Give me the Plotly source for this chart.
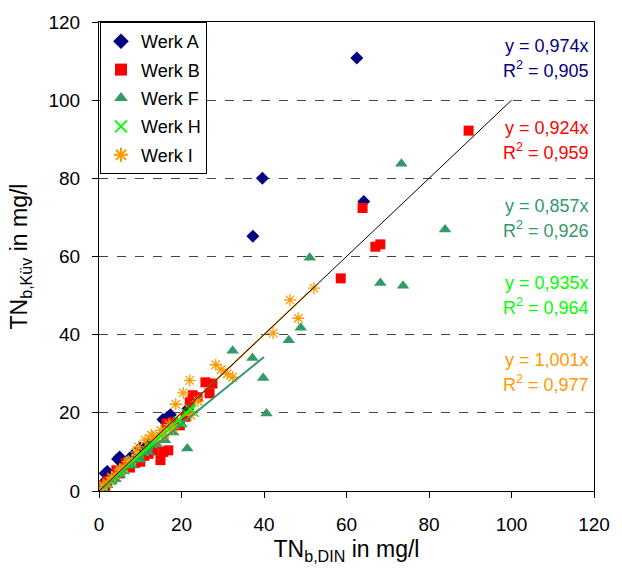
import plotly.graph_objects as go

# ---- data ----
werk_a_x = [0.5, 1.0, 1.5, 2.0, 3.0, 4.5, 5.0, 6.0, 8.0, 10.0, 12.0, 15.5, 16.5, 17.3, 21.5, 37.3, 39.6, 62.5, 64.2]
werk_a_y = [1.0, 2.0, 4.5, 5.0, 4.0, 8.2, 8.7, 7.0, 9.0, 11.0, 12.0, 18.3, 18.8, 19.5, 21.0, 65.2, 80.0, 110.8, 74.1]

werk_b_x = [0.2, 0.5, 1.0, 1.5, 2.0, 3.0, 4.2, 5.0, 6.5, 7.5, 8.8, 9.6, 10.0, 11.0, 12.0, 13.2, 14.9, 15.6,
            16.8, 16.4, 18.0, 19.6, 21.0, 22.0, 22.7, 23.9, 25.8, 26.8, 27.5, 58.6, 63.9, 67.0, 68.2, 89.6]
werk_b_y = [0.8, 1.2, 1.5, 1.0, 2.5, 3.0, 5.3, 4.5, 7.1, 6.0, 7.2, 8.6, 7.5, 9.0, 9.5, 10.4, 7.9, 10.0,
            10.4, 17.3, 17.6, 16.8, 19.0, 22.7, 24.5, 24.0, 27.8, 25.0, 27.5, 54.4, 72.4, 62.5, 63.1, 92.2]

werk_f_x = [1.0, 2.0, 3.0, 4.0, 5.0, 6.0, 8.0, 10.0, 12.0, 14.0, 16.0, 18.0, 20.0, 21.4, 32.4, 37.2, 39.8,
            40.6, 46.0, 48.9, 51.1, 68.2, 73.7, 73.3, 83.9]
werk_f_y = [0.5, 1.5, 2.5, 3.0, 4.0, 5.0, 6.5, 8.0, 10.0, 12.0, 13.0, 15.0, 17.0, 10.9, 35.9, 34.0, 28.9,
            19.8, 38.6, 41.8, 59.7, 53.2, 52.5, 83.7, 66.9]

werk_h_x = [1.0, 2.0, 3.0, 4.0, 5.0, 6.0, 7.0, 8.0, 9.0, 10.0, 11.0, 12.0, 13.0, 14.0, 15.0, 16.0, 17.0,
            18.0, 19.0, 20.0, 21.0, 22.0, 23.2, 24.0]
werk_h_y = [1.0, 2.0, 2.5, 4.0, 5.0, 5.5, 7.0, 7.5, 8.5, 9.5, 10.0, 11.5, 12.0, 13.5, 14.0, 15.0, 16.0,
            17.0, 18.0, 17.3, 20.0, 21.0, 20.0, 23.0]

werk_i_x = [0.5, 1.0, 2.0, 3.0, 4.0, 5.0, 6.0, 7.0, 8.0, 9.0, 9.6, 11.2, 12.7, 13.0, 14.0, 15.0, 16.0, 17.0,
            18.0, 18.6, 20.4, 22.0, 22.3, 24.0, 28.3, 29.6, 31.1, 32.4, 42.2, 46.3, 48.3, 52.1]
werk_i_y = [0.5, 1.5, 2.0, 3.5, 4.0, 5.5, 6.0, 7.5, 8.0, 10.0, 11.3, 13.0, 14.3, 14.0, 13.0, 15.5, 14.5, 17.0,
            16.0, 22.2, 25.1, 28.3, 19.4, 23.0, 32.3, 31.1, 30.0, 29.1, 40.4, 48.9, 44.2, 51.9]

series_names = ["Werk A", "Werk B", "Werk F", "Werk H", "Werk I"]
slope_labels = ["0,974", "0,924", "0,857", "0,935", "1,001"]
r2 = ["0,905", "0,959", "0,926", "0,964", "0,977"]

# visible fitted lines: (series, slope, x end)
trend_specs = [("Werk F", 0.857, 40.0), ("Werk H", 0.935, 23.5), ("Werk I", 1.001, 52.1)]
identity_end = 100.0

x_ticks = [0, 20, 40, 60, 80, 100, 120]
y_ticks = [0, 20, 40, 60, 80, 100, 120]

colors = {"Werk A": "#000080", "Werk B": "#FF0000", "Werk F": "#339966",
          "Werk H": "#00FF00", "Werk I": "#FF9900"}

fig = go.Figure()

data = {
    "Werk A": (werk_a_x, werk_a_y, dict(symbol="diamond", size=10)),
    "Werk B": (werk_b_x, werk_b_y, dict(symbol="square", size=10)),
    "Werk F": (werk_f_x, werk_f_y, dict(symbol="triangle-up", size=11)),
    "Werk H": (werk_h_x, werk_h_y, dict(symbol="x-thin-open", size=8, line=dict(width=1.3))),
    "Werk I": (werk_i_x, werk_i_y, dict(symbol="asterisk-open", size=10, line=dict(width=1.3))),
}

for name in series_names:
    xs, ys, mk = data[name]
    m = dict(mk)
    m["color"] = colors[name]
    if "line" in m:
        m["line"] = dict(m["line"], color=colors[name])
    else:
        m["line"] = dict(width=0)
    fig.add_trace(go.Scatter(x=xs, y=ys, mode="markers", name=name, marker=m, legendgroup=name))

for name, b, xe in trend_specs:
    fig.add_trace(go.Scatter(x=[0, xe], y=[0, b * xe], mode="lines",
                             line=dict(color=colors[name], width=2 if name != "Werk I" else 1.5),
                             showlegend=False, hoverinfo="skip"))
# identity line on top
fig.add_trace(go.Scatter(x=[0, identity_end], y=[0, identity_end], mode="lines",
                         line=dict(color="black", width=1), showlegend=False, hoverinfo="skip"))

# annotations
plot_top, plot_bottom = 20, 491
def ypaper(py):
    return (plot_bottom - py) / (plot_bottom - plot_top)

ann_rows = [(44, 68), (126, 150), (205, 228), (282, 306), (359, 383)]
for name, sl, rr, (y1, y2) in zip(series_names, slope_labels, r2, ann_rows):
    c = colors[name]
    fig.add_annotation(x=0.993, y=ypaper(y1), xref="paper", yref="paper", xanchor="right",
                       yanchor="middle", text=f"y = {sl}x", showarrow=False,
                       font=dict(color=c, size=18))
    fig.add_annotation(x=0.993, y=ypaper(y2), xref="paper", yref="paper", xanchor="right",
                       yanchor="middle", text=f"R<sup>2</sup> = {rr}", showarrow=False,
                       font=dict(color=c, size=18))

fig.update_layout(
    width=622, height=570,
    margin=dict(l=99, r=19, t=20, b=79),
    paper_bgcolor="white", plot_bgcolor="white",
    font=dict(family="Liberation Sans, Arial, sans-serif", size=19, color="black"),
    showlegend=True,
    legend=dict(x=0.002, y=1.0, xanchor="left", yanchor="top", bgcolor="white",
                bordercolor="black", borderwidth=1, font=dict(size=18),
                itemsizing="constant", tracegroupgap=2, itemwidth=30),
    xaxis=dict(range=[0, 120], tickvals=x_ticks, showgrid=False, zeroline=False,
               showline=True, linecolor="black", linewidth=1, mirror=True,
               ticks="outside", ticklen=6, tickcolor="black", ticklabelstandoff=10,
               title=dict(text="TN<sub>b,DIN</sub> in mg/l", standoff=7)),
    yaxis=dict(range=[0, 120], tickvals=y_ticks, showgrid=True, gridcolor="#444444",
               griddash="dash", gridwidth=1, zeroline=False,
               showline=True, linecolor="black", linewidth=1, mirror=True,
               ticks="outside", ticklen=6, tickcolor="black", ticklabelstandoff=8,
               title=dict(text="TN<sub>b,Küv</sub> in mg/l", standoff=14)),
)

fig.write_html("out.html")
